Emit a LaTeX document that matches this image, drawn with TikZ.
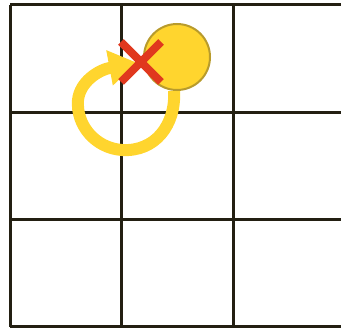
\documentclass[tikz,border=0pt]{standalone}
\usepackage{xcolor}
\usepackage{tikz}
\usetikzlibrary{shapes.misc,arrows.meta,positioning,backgrounds}
\definecolor{gridink}{HTML}{231F12}
\definecolor{agentfill}{HTML}{FFD52E}
\definecolor{agentrim}{HTML}{B89B2C}
\definecolor{goalred}{HTML}{E0381E}
\tikzset{
  gridline/.style={draw=gridink, line width=3pt},
  agent/.style={circle, draw=agentrim, line width=2pt, fill=agentfill, minimum size=66pt, inner sep=0pt},
  goal/.style={cross out, draw=goalred, line width=8pt, minimum size=32pt, inner sep=0pt},
  move/.style={draw=agentfill, line width=12pt, -{Triangle[length=28pt,width=34pt]}},
}
\begin{document}
\begin{tikzpicture}[x=1pt,y=-1pt]
  \useasboundingbox (0,0) rectangle (341,329);
  % agent and target
  \node[agent] (agent) at (177,57) {};
  \node[goal] (goal) at (141,62) {};
  \begin{scope}[on background layer]
    % grid
    \foreach \gx in {10,121,233}
      \draw[gridline] (\gx,5) -- (\gx,327);
    \foreach \gy in {5,113,220,327}
      \draw[gridline] (10,\gy) -- (341,\gy);
    \draw[move, shorten >=4pt] (agent.-95) .. controls (176,125) and (155,152) .. (122,150)
      .. controls (95,148) and (76,125) .. (78,100)
      .. controls (80,82) and (98,70) .. (goal.center);
  \end{scope}
\end{tikzpicture}
\end{document}
